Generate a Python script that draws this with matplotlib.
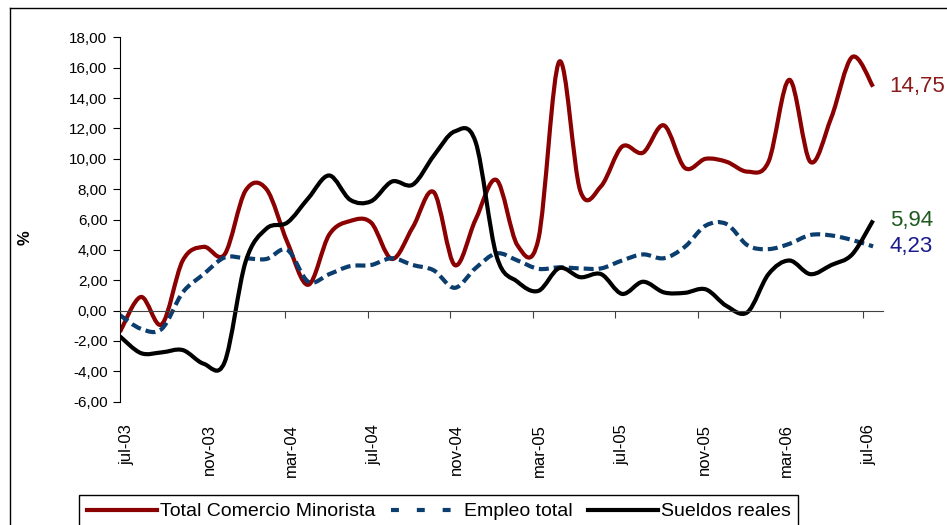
import numpy as np
import matplotlib
matplotlib.use("Agg")
import matplotlib.pyplot as plt
from matplotlib.path import Path
from matplotlib.patches import PathPatch
from matplotlib.lines import Line2D

plt.rcParams['font.family'] = ['Liberation Sans', 'DejaVu Sans']

# monthly series, jul-03 .. jul-06 (37 months), % change
comercio = [-1.4, 0.9, -0.9, 3.3, 4.2, 3.7, 7.9, 8.0, 4.5, 1.7,
            5.0, 5.9, 5.8, 3.4, 5.5, 7.8, 3.0, 6.0, 8.6, 4.3,
            4.7, 16.4, 7.9, 8.2, 10.8, 10.4, 12.2, 9.4, 10.0, 9.8,
            9.15, 9.8, 15.2, 9.8, 12.7, 16.7, 14.75]
empleo = [-0.3, -1.2, -1.2, 1.2, 2.4, 3.5, 3.45, 3.4, 4.0, 1.9,
          2.4, 2.93, 3.0, 3.45, 3.0, 2.65, 1.5, 2.8, 3.77, 3.3,
          2.75, 2.85, 2.78, 2.78, 3.3, 3.7, 3.45, 4.2, 5.6, 5.7,
          4.3, 4.05, 4.4, 4.98, 4.95, 4.65, 4.23]
sueldos = [-1.7, -2.8, -2.75, -2.6, -3.5, -3.4, 3.2, 5.4, 5.8, 7.4,
           8.9, 7.3, 7.2, 8.5, 8.3, 10.2, 11.8, 11.1, 3.6, 1.9,
           1.3, 2.8, 2.2, 2.4, 1.1, 1.9, 1.2, 1.17, 1.4, 0.3,
           -0.1, 2.4, 3.3, 2.4, 3.0, 3.7, 5.94]

tick_labels = ['jul-03', 'nov-03', 'mar-04', 'jul-04', 'nov-04',
               'mar-05', 'jul-05', 'nov-05', 'mar-06', 'jul-06']
series_names = ['Total Comercio Minorista', 'Empleo total', 'Sueldos reales']

red = '#8b0000'
blue = '#0b3d6e'
black = '#000000'


def smooth_path(x, y):
    # Catmull-Rom style bezier through the points (like Excel's smoothed line)
    pts = np.column_stack([x, y])
    ext = np.vstack([pts[0], pts, pts[-1]])
    verts = [pts[0]]
    codes = [Path.MOVETO]
    for i in range(len(pts) - 1):
        p0, p1, p2, p3 = ext[i], ext[i + 1], ext[i + 2], ext[i + 3]
        verts += [p1 + (p2 - p0) / 6, p2 - (p3 - p1) / 6, p2]
        codes += [Path.CURVE4] * 3
    return Path(verts, codes)


fig = plt.figure(figsize=(9.47, 5.25), dpi=100)
ax = fig.add_axes([120 / 947, 1 - 401.7 / 525, 762.7 / 947, 364.4 / 525])

x = np.arange(len(comercio))
styles = [(comercio, red, '-'), (empleo, blue, (0, (2.4, 1.2))), (sueldos, black, '-')]
for vals, col, ls in styles:
    ax.add_patch(PathPatch(smooth_path(x, vals), facecolor='none', edgecolor=col,
                           lw=3, linestyle=ls, capstyle='butt', joinstyle='round'))

end_colors = ['#8b1a1a', '#1e5a1e', '#1a1a8c']
for vals, col in zip([comercio, sueldos, empleo], end_colors):
    ax.annotate(f"{vals[-1]:.2f}".replace('.', ','), (x[-1], vals[-1]),
                xytext=(12, 0), textcoords='offset points', va='center', ha='left',
                fontsize=16, color=col, annotation_clip=False)

ax.set_xlim(0, 36.46)
ax.set_ylim(-6, 18)

yt = np.arange(-6, 19, 2)
ax.set_yticks(yt)
ax.set_yticklabels([f"{v:.2f}".replace('.', ',') for v in yt])
ax.tick_params(axis='y', direction='out', length=5, width=0.8, pad=4, labelsize=11)

tick_step = 3.944
ax.set_xticks([tick_step * k + 0.32 for k in range(len(tick_labels))])
ax.set_xticklabels(tick_labels)
ax.set_xticks([tick_step * k for k in range(1, len(tick_labels))], minor=True)
ax.tick_params(axis='x', which='major', length=0, pad=82, labelsize=12, labelrotation=90)
ax.tick_params(axis='x', which='minor', direction='out', length=5, width=0.8, color='#404040')

for s in ['top', 'right']:
    ax.spines[s].set_visible(False)
ax.spines['bottom'].set_position(('data', 0))
ax.spines['bottom'].set_color('#404040')
ax.spines['bottom'].set_linewidth(0.8)
ax.spines['left'].set_linewidth(0.8)

fig.text(25 / 947, 1 - 238 / 525, '%', rotation=90, ha='center', va='center',
         fontsize=12, fontweight='bold')

# outer chart frame
fig.add_artist(Line2D([10 / 947, 10 / 947], [0, 1 - 8 / 525], transform=fig.transFigure,
                      color='black', lw=1))
fig.add_artist(Line2D([10 / 947, 1], [1 - 8 / 525, 1 - 8 / 525], transform=fig.transFigure,
                      color='black', lw=1))

handles = [Line2D([], [], color=red, lw=3),
           Line2D([], [], color=blue, lw=3, linestyle=(0, (1.9, 4.3))),
           Line2D([], [], color=black, lw=3)]
leg = fig.legend(handles, series_names, loc='upper left',
                 bbox_to_anchor=(79 / 947, 1 - 495 / 525), ncol=3, frameon=True,
                 fancybox=False, edgecolor='black', framealpha=1, fontsize=14,
                 handlelength=3.6, handletextpad=0.15, columnspacing=0.8,
                 borderpad=0.4, borderaxespad=0)
leg.get_frame().set_linewidth(1.0)

fig.savefig('out.png', dpi=100)
